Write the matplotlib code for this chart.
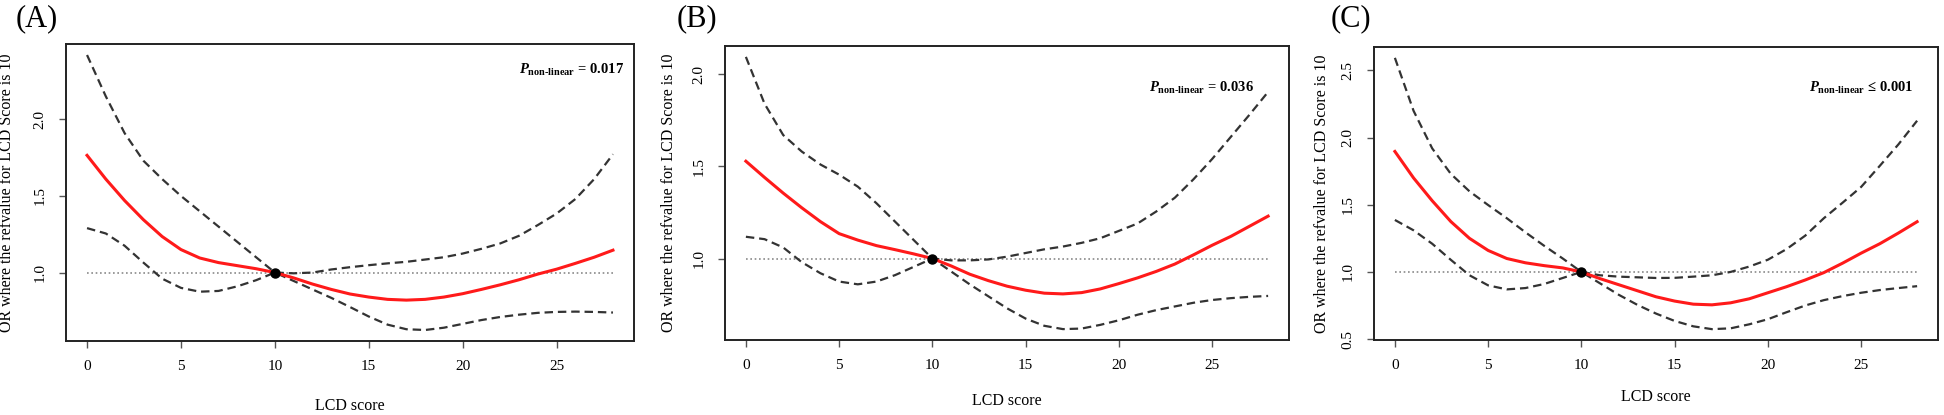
import matplotlib
matplotlib.use("Agg")
import matplotlib.pyplot as plt

plt.rcParams["font.family"] = ["Liberation Serif", "DejaVu Serif"]
plt.rcParams["mathtext.fontset"] = "custom"
plt.rcParams["mathtext.rm"] = "Liberation Serif:bold"
plt.rcParams["mathtext.it"] = "Liberation Serif:italic:bold"
plt.rcParams["mathtext.bf"] = "Liberation Serif:bold"

# LCD score grid (at each integer)
lcd = list(range(0, 29))
ref_x, ref_y = 10, 1.0

# Panel A
or_a = [1.765, 1.61, 1.47, 1.345, 1.235, 1.15, 1.095, 1.065, 1.045, 1.025, 1.0,
        0.965, 0.925, 0.89, 0.86, 0.84, 0.825, 0.82, 0.825, 0.84, 0.862,
        0.89, 0.92, 0.953, 0.99, 1.022, 1.06, 1.10, 1.146]
hi_a = [2.42, 2.15, 1.91, 1.73, 1.61, 1.50, 1.40, 1.30, 1.20, 1.10, 1.0,
        0.995, 1.0, 1.02, 1.035, 1.048, 1.06, 1.07, 1.085, 1.10, 1.124,
        1.155, 1.19, 1.24, 1.31, 1.385, 1.48, 1.61, 1.772]
lo_a = [1.29, 1.255, 1.175, 1.065, 0.96, 0.90, 0.875, 0.88, 0.91, 0.95, 1.0,
        0.945, 0.89, 0.835, 0.775, 0.713, 0.66, 0.63, 0.625, 0.64, 0.665,
        0.69, 0.71, 0.725, 0.737, 0.743, 0.745, 0.743, 0.739]

# Panel B
or_b = [1.528, 1.44, 1.355, 1.275, 1.20, 1.135, 1.10, 1.07, 1.048, 1.025, 1.0,
        0.96, 0.915, 0.88, 0.85, 0.828, 0.812, 0.808, 0.815, 0.835, 0.864,
        0.895, 0.93, 0.97, 1.02, 1.072, 1.12, 1.175, 1.23]
hi_b = [2.094, 1.84, 1.67, 1.58, 1.51, 1.455, 1.39, 1.30, 1.20, 1.10, 1.0,
        0.99, 0.99, 0.995, 1.01, 1.03, 1.05, 1.065, 1.085, 1.11, 1.15,
        1.19, 1.255, 1.33, 1.43, 1.54, 1.66, 1.78, 1.904]
lo_b = [1.118, 1.105, 1.06, 0.98, 0.92, 0.875, 0.86, 0.875, 0.91, 0.955, 1.0,
        0.93, 0.86, 0.795, 0.73, 0.674, 0.635, 0.617, 0.62, 0.64, 0.665,
        0.695, 0.72, 0.74, 0.76, 0.775, 0.785, 0.792, 0.797]

# Panel C
or_c = [1.897, 1.70, 1.53, 1.375, 1.25, 1.16, 1.10, 1.068, 1.047, 1.03, 1.0,
        0.95, 0.905, 0.86, 0.815, 0.783, 0.76, 0.755, 0.77, 0.80, 0.845,
        0.89, 0.94, 0.995, 1.065, 1.14, 1.21, 1.29, 1.374]
hi_c = [2.594, 2.2, 1.92, 1.73, 1.60, 1.498, 1.40, 1.295, 1.195, 1.10, 1.0,
        0.975, 0.965, 0.96, 0.955, 0.956, 0.965, 0.975, 1.0, 1.04, 1.091,
        1.17, 1.27, 1.40, 1.515, 1.633, 1.79, 1.95, 2.126]
lo_c = [1.387, 1.31, 1.21, 1.09, 0.975, 0.90, 0.87, 0.88, 0.91, 0.955, 1.0,
        0.915, 0.83, 0.755, 0.69, 0.635, 0.595, 0.574, 0.58, 0.61, 0.648,
        0.70, 0.75, 0.79, 0.82, 0.845, 0.865, 0.88, 0.894]

panel_tags = ["(A)", "(B)", "(C)"]
p_texts = [r"$P_{\mathrm{non‐linear}}$ = 0.017",
           r"$P_{\mathrm{non‐linear}}$ = 0.036",
           r"$P_{\mathrm{non‐linear}}$ ≤ 0.001"]
yticks = [[1.0, 1.5, 2.0], [1.0, 1.5, 2.0], [0.5, 1.0, 1.5, 2.0, 2.5]]
series = [(or_a, hi_a, lo_a), (or_b, hi_b, lo_b), (or_c, hi_c, lo_c)]

# axes boxes in pixels: left, right, top, bottom (1944 x 415 canvas)
W, H = 1944, 415
boxes = [(66, 634, 44, 341), (725, 1289, 46, 340), (1374, 1938, 47, 340)]
tag_x = [16, 677, 1331]
p_pos = [(0.982, 0.912), (0.938, 0.857), (0.956, 0.86)]
ylab_x = [-0.090, -0.085, -0.078]
xlab_y = [-0.192, -0.180, -0.167]

dpi = 100
fig = plt.figure(figsize=(W / dpi, H / dpi), dpi=dpi)

for i, (est, hi, lo) in enumerate(series):
    l, r, t, b = boxes[i]
    ax = fig.add_axes([l / W, 1 - b / H, (r - l) / W, (b - t) / H])
    ax.plot([lcd[0], lcd[-1]], [1, 1], color="#8a8a8a", lw=1.2,
            linestyle=(0, (1, 1.6)))
    ax.plot(lcd, hi, color="#333333", lw=1.6, linestyle=(0, (3.8, 2.2)),
            solid_joinstyle="round")
    ax.plot(lcd, lo, color="#333333", lw=1.6, linestyle=(0, (3.8, 2.2)),
            solid_joinstyle="round")
    ax.plot(lcd, est, color="#ff1a1a", lw=2.2, solid_joinstyle="round")
    ax.plot([ref_x], [ref_y], "o", color="black", ms=6.5)
    ax.margins(0.04)

    ax.set_xticks([0, 5, 10, 15, 20, 25])
    ax.set_yticks(yticks[i])
    ax.set_yticklabels([f"{v:.1f}" for v in yticks[i]], rotation=90,
                       va="center")
    ax.tick_params(direction="out", length=5, width=1, color="#555555",
                   labelsize=11, pad=9)
    for s in ax.spines.values():
        s.set_linewidth(1.4)
        s.set_color("#222222")

    ax.set_xlabel("LCD score", fontsize=11.5)
    ax.xaxis.set_label_coords(0.5, xlab_y[i])
    ax.set_ylabel("OR where the refvalue for LCD Score is 10", fontsize=11.5)
    ax.yaxis.set_label_coords(ylab_x[i], 0.5)

    ax.text(p_pos[i][0], p_pos[i][1], p_texts[i], transform=ax.transAxes,
            ha="right", va="center", fontsize=10.5, fontweight="bold")

    fig.text(tag_x[i] / W, 1 - 4 / H, panel_tags[i], ha="left", va="top",
             fontsize=22)

fig.savefig("out.png", dpi=dpi)
